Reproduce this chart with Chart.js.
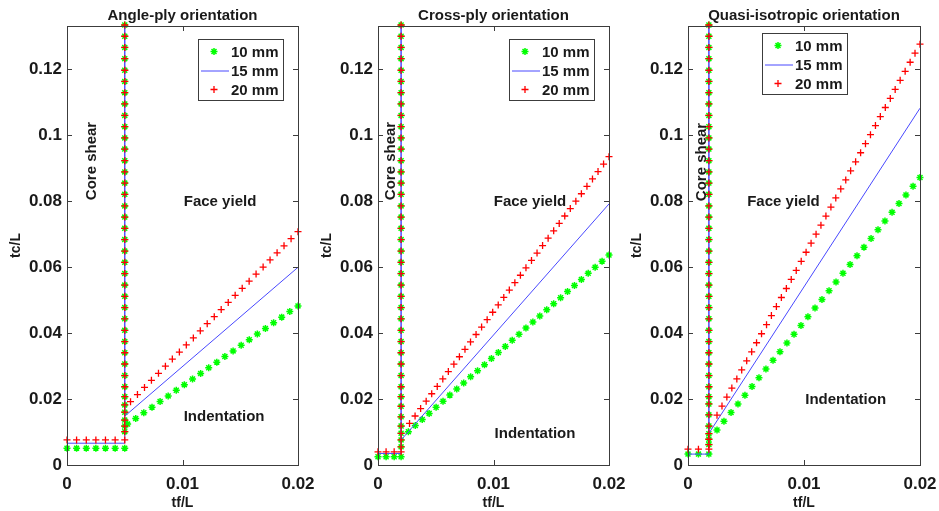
<!DOCTYPE html>
<html>
<head>
<meta charset="utf-8">
<script src="https://cdn.jsdelivr.net/npm/chart.js@4.4.1/dist/chart.umd.min.js"></script>
<style>
  body { margin: 0; background: #fff; }
  #wrap { position: relative; width: 939px; height: 511px; overflow: hidden; }
  #wrap canvas { position: absolute; top: 0; }
</style>
</head>
<body>
<div id="wrap">
  <canvas id="c0"></canvas>
  <canvas id="c1"></canvas>
  <canvas id="c2"></canvas>
</div>
<script>
const panelTitles = ['Angle-ply orientation', 'Cross-ply orientation', 'Quasi-isotropic orientation'];
const seriesNames = ['10 mm', '15 mm', '20 mm'];
const tfTicks = [0, 0.01, 0.02];
const tcTicks = [0, 0.02, 0.04, 0.06, 0.08, 0.1, 0.12];

// core shear boundary (vertical), shared upper part + per-panel lower part
const shearTf = [0.005, 0.002, 0.0018];
const shearTcLow = [
    [0.0101, 0.0118, 0.0136, 0.016, 0.0182, 0.0207],
    [0.0055, 0.0076, 0.0096, 0.0118, 0.0146, 0.0178, 0.0207],
    [0.0062, 0.0078, 0.0095, 0.0118, 0.0152, 0.0185, 0.0207]
];
const shearTc = [0.0237, 0.0271, 0.0306, 0.034, 0.0374, 0.0408, 0.0443, 0.0477, 0.0511, 0.0545,
    0.058, 0.0614, 0.0648, 0.0683, 0.0717, 0.0751, 0.0785, 0.082, 0.0854, 0.0888, 0.0922, 0.0957,
    0.0991, 0.1025, 0.1059, 0.1094, 0.1128, 0.1162, 0.1196, 0.1231, 0.1265, 0.1299, 0.1333];

// flat part at small tf
const flatTf = [
    [0, 0.00083, 0.00167, 0.0025, 0.00333, 0.00417, 0.005],
    [0, 0.0007, 0.0014, 0.002],
    [0, 0.0009, 0.0018]
];
const flatTc10 = [0.0051, 0.0025, 0.0033];
const flatTc15 = [0.0066, 0.0035, 0.0033];
const flatTc20 = [0.0076, 0.004, 0.0048];

// face yield / indentation boundary
const slopeTf10 = [
    [0.00525, 0.00595, 0.00665, 0.00736, 0.00806, 0.00876, 0.00946, 0.01016, 0.01087, 0.01157, 0.01227,
     0.01297, 0.01367, 0.01438, 0.01508, 0.01578, 0.01648, 0.01718, 0.01789, 0.01859, 0.01929, 0.02],
    [0.00263, 0.00323, 0.00383, 0.00443, 0.00503, 0.00563, 0.00622, 0.00682, 0.00742, 0.00802, 0.00862,
     0.00922, 0.00982, 0.01042, 0.01102, 0.01162, 0.01221, 0.01281, 0.01341, 0.01401, 0.01461, 0.01521,
     0.01581, 0.01641, 0.01701, 0.01761, 0.0182, 0.0188, 0.0194, 0.02],
    [0.0025, 0.0031, 0.00371, 0.00431, 0.00491, 0.00552, 0.00612, 0.00672, 0.00733, 0.00793, 0.00853,
     0.00914, 0.00974, 0.01034, 0.01095, 0.01155, 0.01216, 0.01276, 0.01336, 0.01397, 0.01457, 0.01517,
     0.01578, 0.01638, 0.01698, 0.01759, 0.01819, 0.01879, 0.0194, 0.02]
];
const slopeTc10 = [
    [0.0124, 0.01411, 0.01581, 0.01752, 0.01922, 0.02093, 0.02263, 0.02434, 0.02604, 0.02775, 0.02945,
     0.03116, 0.03286, 0.03457, 0.03627, 0.03798, 0.03968, 0.04139, 0.04309, 0.0448, 0.0465, 0.0482],
    [0.0101, 0.01195, 0.01379, 0.01564, 0.01748, 0.01933, 0.02117, 0.02302, 0.02486, 0.02671, 0.02855,
     0.0304, 0.03224, 0.03409, 0.03593, 0.03778, 0.03962, 0.04147, 0.04331, 0.04516, 0.047, 0.04885,
     0.05069, 0.05254, 0.05438, 0.05623, 0.05807, 0.05992, 0.06176, 0.0636],
    [0.0106, 0.01324, 0.01588, 0.01851, 0.02115, 0.02379, 0.02643, 0.02907, 0.0317, 0.03434, 0.03698,
     0.03962, 0.04226, 0.04489, 0.04753, 0.05017, 0.05281, 0.05545, 0.05808, 0.06072, 0.06336, 0.066,
     0.06864, 0.07127, 0.07391, 0.07655, 0.07919, 0.08183, 0.08446, 0.0871]
];
const slopeTf15 = [[0.005, 0.02], [0.002, 0.02], [0.0018, 0.02]];
const slopeTc15 = [[0.0148, 0.0599], [0.0076, 0.0791], [0.0096, 0.1081]];
const slopeTf20 = [
    [0.0055, 0.0061, 0.00671, 0.00731, 0.00792, 0.00852, 0.00912, 0.00973, 0.01033, 0.01094, 0.01154,
     0.01214, 0.01275, 0.01335, 0.01396, 0.01456, 0.01517, 0.01577, 0.01637, 0.01698, 0.01758, 0.01819,
     0.01879, 0.0194, 0.02],
    [0.00273, 0.00321, 0.00369, 0.00417, 0.00465, 0.00513, 0.00561, 0.00609, 0.00657, 0.00705, 0.00753,
     0.00801, 0.00849, 0.00897, 0.00945, 0.00993, 0.01041, 0.01089, 0.01137, 0.01185, 0.01233, 0.01281,
     0.01329, 0.01377, 0.01425, 0.01473, 0.01521, 0.01569, 0.01617, 0.01665, 0.01713, 0.01761, 0.01809,
     0.01857, 0.01905, 0.01953, 0.02],
    [0.0025, 0.00293, 0.00335, 0.00378, 0.00421, 0.00463, 0.00506, 0.00549, 0.00591, 0.00634, 0.00677,
     0.00719, 0.00762, 0.00805, 0.00848, 0.0089, 0.00933, 0.00976, 0.01018, 0.01061, 0.01104, 0.01146,
     0.01189, 0.01232, 0.01274, 0.01317, 0.0136, 0.01402, 0.01445, 0.01488, 0.0153, 0.01573, 0.01616,
     0.01658, 0.01701, 0.01744, 0.01786, 0.01829, 0.01872, 0.01915, 0.01957, 0.02]
];
const slopeTc20 = [
    [0.0192, 0.02135, 0.02349, 0.02564, 0.02778, 0.02993, 0.03208, 0.03422, 0.03637, 0.03851, 0.04066,
     0.04281, 0.04495, 0.0471, 0.04924, 0.05139, 0.05354, 0.05568, 0.05783, 0.05997, 0.06212, 0.06427,
     0.06641, 0.06856, 0.0707],
    [0.0126, 0.01484, 0.01709, 0.01933, 0.02158, 0.02382, 0.02607, 0.02831, 0.03056, 0.0328, 0.03504,
     0.03729, 0.03953, 0.04178, 0.04402, 0.04627, 0.04851, 0.05076, 0.053, 0.05524, 0.05749, 0.05973,
     0.06198, 0.06422, 0.06647, 0.06871, 0.07096, 0.0732, 0.07544, 0.07769, 0.07993, 0.08218, 0.08442,
     0.08667, 0.08891, 0.09116, 0.0934],
    [0.0151, 0.01784, 0.02058, 0.02332, 0.02607, 0.02881, 0.03155, 0.03429, 0.03703, 0.03977, 0.04252,
     0.04526, 0.048, 0.05074, 0.05348, 0.05622, 0.05896, 0.06171, 0.06445, 0.06719, 0.06993, 0.07267,
     0.07541, 0.07815, 0.0809, 0.08364, 0.08638, 0.08912, 0.09186, 0.0946, 0.09735, 0.10009, 0.10283,
     0.10557, 0.10831, 0.11105, 0.11379, 0.11654, 0.11928, 0.12202, 0.12476, 0.1275]
];

// region labels, anchored in data units
const regionText = ['Core shear', 'Face yield', 'Indentation'];
const regionTf = [[0.00216, 0.01325, 0.0136], [0.00113, 0.01316, 0.01359], [0.00119, 0.00823, 0.01359]];
const regionTc = [[0.0921, 0.0797, 0.01455], [0.0921, 0.0797, 0.0094], [0.0918, 0.0797, 0.0197]];

// page layout (pixels)
const panels = [
    { left: 0, width: 330, plotLeft: 67, plotRight: 298, legend: 'ne' },
    { left: 310, width: 330, plotLeft: 378, plotRight: 609, legend: 'ne' },
    { left: 620, width: 319, plotLeft: 688, plotRight: 920, legend: 'n' }
];
const plotTop = 26;
const plotBottom = 465;
const fontFamily = '"Liberation Sans", Arial, sans-serif';
const colors = { g: '#00ff00', b: '#4848ff', r: '#ff0000', axis: '#3c3c3c', text: '#1a1a1a' };

Chart.defaults.font.family = fontFamily;

const fmt = v => String(parseFloat(Number(v).toFixed(4)));

function drawStar(ctx, x, y, r) {
    const d = r * Math.SQRT1_2;
    ctx.beginPath();
    ctx.moveTo(x - r, y); ctx.lineTo(x + r, y);
    ctx.moveTo(x, y - r); ctx.lineTo(x, y + r);
    ctx.moveTo(x - d, y - d); ctx.lineTo(x + d, y + d);
    ctx.moveTo(x - d, y + d); ctx.lineTo(x + d, y - d);
    ctx.stroke();
}

function drawCross(ctx, x, y, r) {
    ctx.beginPath();
    ctx.moveTo(x - r, y); ctx.lineTo(x + r, y);
    ctx.moveTo(x, y - r); ctx.lineTo(x, y + r);
    ctx.stroke();
}

const framePlugin = {
    id: 'frame',
    afterDraw(chart, args, opts) {
        const { ctx, chartArea: a, scales } = chart;
        const xs = scales.x, ys = scales.y;
        ctx.save();

        // axes box with inward ticks
        ctx.strokeStyle = colors.axis;
        ctx.lineWidth = 1;
        ctx.strokeRect(a.left + 0.5, a.top + 0.5, a.right - a.left, a.bottom - a.top);
        ctx.beginPath();
        tcTicks.forEach(v => {
            const py = Math.round(ys.getPixelForValue(v)) + 0.5;
            ctx.moveTo(a.left, py); ctx.lineTo(a.left + 5, py);
            ctx.moveTo(a.right, py); ctx.lineTo(a.right - 5, py);
        });
        tfTicks.forEach(v => {
            const px = Math.round(xs.getPixelForValue(v)) + 0.5;
            ctx.moveTo(px, a.bottom); ctx.lineTo(px, a.bottom - 5);
            ctx.moveTo(px, a.top); ctx.lineTo(px, a.top + 5);
        });
        ctx.stroke();

        const midX = (a.left + a.right) / 2;
        ctx.fillStyle = colors.text;
        ctx.textAlign = 'center';

        // title
        ctx.font = 'bold 15px ' + fontFamily;
        ctx.textBaseline = 'alphabetic';
        ctx.fillText(opts.title, midX, 20);

        // axis titles
        ctx.font = 'bold 14px ' + fontFamily;
        ctx.textBaseline = 'middle';
        ctx.fillText('tf/L', midX, 503);
        ctx.save();
        ctx.translate(a.left - 51, (a.top + a.bottom) / 2);
        ctx.rotate(-Math.PI / 2);
        ctx.fillText('tc/L', 0, 0);
        ctx.restore();

        // region labels
        ctx.font = 'bold 15px ' + fontFamily;
        regionText.forEach((t, k) => {
            const px = xs.getPixelForValue(regionTf[opts.index][k]);
            const py = ys.getPixelForValue(regionTc[opts.index][k]);
            if (k === 0) {
                ctx.save();
                ctx.translate(px, py);
                ctx.rotate(-Math.PI / 2);
                ctx.fillText(t, 0, 0);
                ctx.restore();
            } else {
                ctx.fillText(t, px, py);
            }
        });

        // legend box
        const w = 85, h = 61;
        const lx = opts.legend === 'n' ? Math.round(midX - w / 2) : a.right - 15 - w;
        const ly = opts.legend === 'n' ? a.top + 7 : a.top + 13;
        ctx.fillStyle = '#fff';
        ctx.fillRect(lx, ly, w, h);
        ctx.strokeStyle = colors.axis;
        ctx.strokeRect(lx + 0.5, ly + 0.5, w, h);
        ctx.font = 'bold 15px ' + fontFamily;
        ctx.textAlign = 'left';
        seriesNames.forEach((name, k) => {
            const cy = ly + 12.5 + k * 19;
            if (k === 0) {
                ctx.strokeStyle = colors.g; ctx.lineWidth = 1.5;
                drawStar(ctx, lx + 16, cy, 3.5);
            } else if (k === 1) {
                ctx.strokeStyle = colors.b; ctx.lineWidth = 1;
                ctx.beginPath(); ctx.moveTo(lx + 3, cy + 0.5); ctx.lineTo(lx + 31, cy + 0.5); ctx.stroke();
            } else {
                ctx.strokeStyle = colors.r; ctx.lineWidth = 1.3;
                drawCross(ctx, lx + 16, cy, 3.5);
            }
            ctx.fillStyle = colors.text;
            ctx.fillText(name, lx + 33, cy + 1);
        });
        ctx.restore();
    }
};

function buildPanel(i) {
    const box = panels[i];
    const canvas = document.getElementById('c' + i);
    canvas.width = box.width;
    canvas.height = 511;
    canvas.style.left = box.left + 'px';

    const shearAll = shearTcLow[i].concat(shearTc);
    const pts10 = [], pts20 = [];
    flatTf[i].forEach(tf => pts10.push({ x: tf, y: flatTc10[i] }));
    shearAll.forEach(tc => pts10.push({ x: shearTf[i], y: tc }));
    slopeTf10[i].forEach((tf, k) => pts10.push({ x: tf, y: slopeTc10[i][k] }));
    flatTf[i].forEach(tf => pts20.push({ x: tf, y: flatTc20[i] }));
    shearAll.forEach(tc => pts20.push({ x: shearTf[i], y: tc }));
    slopeTf20[i].forEach((tf, k) => pts20.push({ x: tf, y: slopeTc20[i][k] }));

    const topTc = shearTc[shearTc.length - 1];
    const pts15 = [
        { x: flatTf[i][0], y: flatTc15[i] },
        { x: shearTf[i], y: flatTc15[i] },
        { x: shearTf[i], y: topTc },
        { x: slopeTf15[i][0], y: slopeTc15[i][0] },
        { x: slopeTf15[i][1], y: slopeTc15[i][1] }
    ];

    const tickFont = { size: 17, weight: 'bold', family: fontFamily };
    const noGrid = { display: false, drawTicks: false, tickLength: 0 };

    new Chart(canvas, {
        type: 'scatter',
        data: {
            datasets: [
                { label: seriesNames[0], data: pts10, pointStyle: 'star', pointRadius: 3.5,
                  borderColor: colors.g, backgroundColor: colors.g, pointBorderWidth: 1.5, order: 3, clip: 6 },
                { label: seriesNames[1], data: pts15, showLine: true, pointRadius: 0,
                  borderColor: colors.b, borderWidth: 1, order: 2, clip: 6 },
                { label: seriesNames[2], data: pts20, pointStyle: 'cross', pointRadius: 3.5,
                  borderColor: colors.r, backgroundColor: colors.r, pointBorderWidth: 1.3, order: 1, clip: 6 }
            ]
        },
        options: {
            responsive: false,
            animation: false,
            devicePixelRatio: 1,
            events: [],
            layout: {
                padding: { left: 0, top: plotTop, bottom: 0, right: box.left + box.width - box.plotRight }
            },
            scales: {
                x: {
                    type: 'linear', min: 0, max: 0.02,
                    grid: noGrid, border: { display: false },
                    ticks: { padding: 9, font: tickFont, color: colors.text, maxRotation: 0, autoSkip: false, callback: fmt },
                    afterBuildTicks: s => { s.ticks = tfTicks.map(v => ({ value: v })); },
                    afterFit: s => { s.height = 511 - plotBottom; s.paddingLeft = 0; s.paddingRight = 0; }
                },
                y: {
                    type: 'linear', min: 0, max: 0.133,
                    grid: noGrid, border: { display: false },
                    ticks: { padding: 5, font: tickFont, color: colors.text, autoSkip: false, callback: fmt },
                    afterBuildTicks: s => { s.ticks = tcTicks.map(v => ({ value: v })); },
                    afterFit: s => { s.width = box.plotLeft - box.left; s.paddingTop = 0; s.paddingBottom = 0; }
                }
            },
            plugins: {
                legend: { display: false },
                tooltip: { enabled: false },
                frame: { title: panelTitles[i], index: i, legend: box.legend }
            }
        },
        plugins: [framePlugin]
    });
}

panels.forEach((p, i) => buildPanel(i));
</script>
</body>
</html>
